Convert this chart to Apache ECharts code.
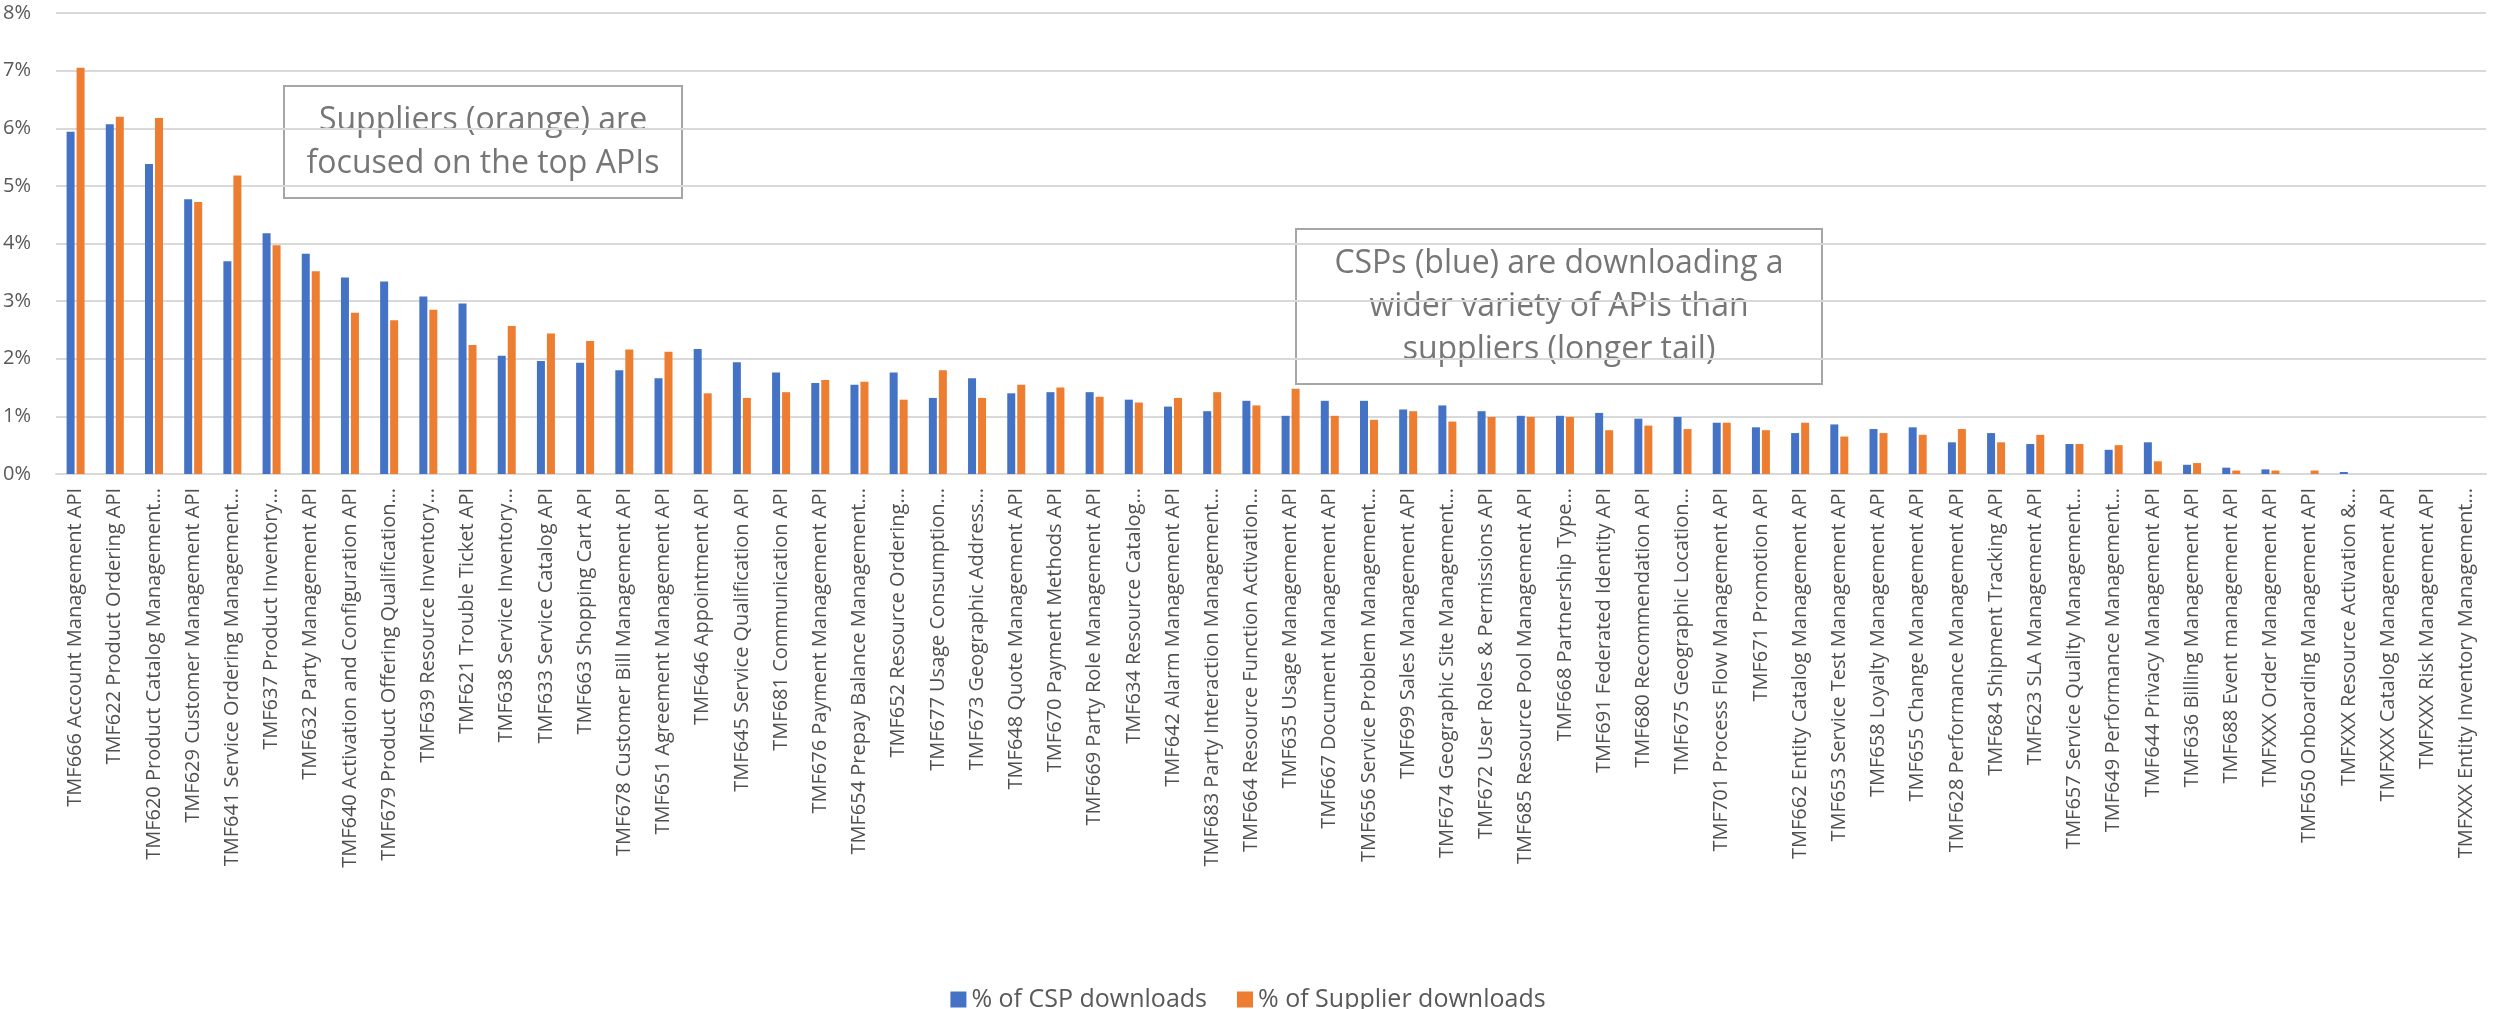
<!DOCTYPE html>
<html>
<head>
<meta charset="utf-8">
<title>API downloads</title>
<script src="https://cdn.jsdelivr.net/npm/echarts@6/dist/echarts.min.js"></script>
<style>
  html, body { margin: 0; padding: 0; background: #fff; }
  #chart { width: 2496px; height: 1009px; }
</style>
</head>
<body>
<div id="chart"></div>
<script>
// API names, as truncated on the original axis
const categories = [
  'TMF666 Account Management API',
  'TMF622 Product Ordering API',
  'TMF620 Product Catalog Management…',
  'TMF629 Customer Management API',
  'TMF641 Service Ordering Management…',
  'TMF637 Product Inventory…',
  'TMF632 Party Management API',
  'TMF640 Activation and Configuration API',
  'TMF679 Product Offering Qualification…',
  'TMF639 Resource Inventory…',
  'TMF621 Trouble Ticket API',
  'TMF638 Service Inventory…',
  'TMF633 Service Catalog API',
  'TMF663 Shopping Cart API',
  'TMF678 Customer Bill Management API',
  'TMF651 Agreement Management API',
  'TMF646 Appointment API',
  'TMF645 Service Qualification API',
  'TMF681 Communication API',
  'TMF676 Payment Management API',
  'TMF654 Prepay Balance Management…',
  'TMF652 Resource Ordering…',
  'TMF677 Usage Consumption…',
  'TMF673 Geographic Address…',
  'TMF648 Quote Management API',
  'TMF670 Payment Methods API',
  'TMF669 Party Role Management API',
  'TMF634 Resource Catalog…',
  'TMF642 Alarm Management API',
  'TMF683 Party Interaction Management…',
  'TMF664 Resource Function Activation…',
  'TMF635 Usage Management API',
  'TMF667 Document Management API',
  'TMF656 Service Problem Management…',
  'TMF699 Sales Management API',
  'TMF674 Geographic Site Management…',
  'TMF672 User Roles & Permissions API',
  'TMF685 Resource Pool Management API',
  'TMF668 Partnership Type…',
  'TMF691 Federated Identity API',
  'TMF680 Recommendation API',
  'TMF675 Geographic Location…',
  'TMF701 Process Flow Management API',
  'TMF671 Promotion API',
  'TMF662 Entity Catalog Management API',
  'TMF653 Service Test Management API',
  'TMF658 Loyalty Management API',
  'TMF655 Change Management API',
  'TMF628 Performance Management API',
  'TMF684 Shipment Tracking API',
  'TMF623 SLA Management API',
  'TMF657 Service Quality Management…',
  'TMF649 Performance Management…',
  'TMF644 Privacy Management API',
  'TMF636 Billing Management API',
  'TMF688 Event management API',
  'TMFXXX Order Management API',
  'TMF650 Onboarding Management API',
  'TMFXXX Resource Activation &…',
  'TMFXXX Catalog Management API',
  'TMFXXX Risk Management API',
  'TMFXXX Entity Inventory Management…'
]

// values in percent
const cspDownloads = [
  5.94, 6.07, 5.38, 4.77, 3.69, 4.18, 3.82, 3.41, 3.34, 3.08,
  2.96, 2.05, 1.96, 1.93, 1.80, 1.66, 2.17, 1.94, 1.76, 1.58,
  1.55, 1.76, 1.32, 1.66, 1.40, 1.42, 1.42, 1.29, 1.17, 1.09,
  1.27, 1.01, 1.27, 1.27, 1.12, 1.19, 1.09, 1.01, 1.01, 1.06,
  0.96, 0.99, 0.89, 0.81, 0.71, 0.86, 0.78, 0.81, 0.55, 0.71,
  0.52, 0.52, 0.42, 0.55, 0.16, 0.11, 0.08, 0, 0.035, 0,
  0, 0
]
const supplierDownloads = [
  7.05, 6.20, 6.18, 4.72, 5.18, 3.97, 3.52, 2.80, 2.67, 2.85,
  2.24, 2.57, 2.44, 2.31, 2.16, 2.12, 1.40, 1.32, 1.42, 1.63,
  1.60, 1.29, 1.80, 1.32, 1.55, 1.50, 1.34, 1.24, 1.32, 1.42,
  1.19, 1.48, 1.01, 0.94, 1.09, 0.91, 0.99, 0.99, 0.99, 0.76,
  0.84, 0.78, 0.89, 0.76, 0.89, 0.65, 0.71, 0.68, 0.78, 0.55,
  0.68, 0.52, 0.50, 0.22, 0.19, 0.06, 0.06, 0.06, 0, 0,
  0, 0
]

const seriesNames = ['% of CSP downloads', '% of Supplier downloads']
const yMax = 8
const yStep = 1

const note1 = 'Suppliers (orange) are\nfocused on the top APIs'
const note2 = 'CSPs (blue) are downloading a\nwider variety of APIs than\nsuppliers (longer tail)'

const font = '"Open Sans", "Noto Sans", sans-serif'

function noteBox(x, y, w, h, text) {
  return {
    type: 'group',
    left: x,
    top: y,
    children: [
      {
        type: 'rect',
        shape: { x: 0, y: 0, width: w, height: h },
        style: { fill: '#fff', stroke: '#a6a6a6', lineWidth: 2 }
      },
      {
        type: 'text',
        x: w / 2,
        y: h / 2,
        style: {
          text: text,
          fill: '#767676',
          font: '32px ' + font,
          lineHeight: 43,
          align: 'center',
          verticalAlign: 'middle'
        }
      }
    ]
  }
}

const chart = echarts.init(document.getElementById('chart'))

const option = {
  animation: false,
  textStyle: { fontFamily: font },
  grid: { left: 56, right: 10, top: 13, bottom: 535, containLabel: false },
  legend: {
    data: seriesNames,
    top: 982,
    left: 'center',
    icon: 'rect',
    itemWidth: 16,
    itemHeight: 16,
    itemGap: 30,
    textStyle: { color: '#595959', fontSize: 25, fontFamily: font }
  },
  xAxis: {
    type: 'category',
    data: categories,
    axisLine: { lineStyle: { color: '#d9d9d9', width: 2 } },
    axisTick: { show: false },
    axisLabel: {
      interval: 0,
      rotate: 90,
      margin: 14,
      color: '#505050',
      fontSize: 20,
      fontFamily: font
    }
  },
  yAxis: {
    type: 'value',
    min: 0,
    max: yMax,
    interval: yStep,
    axisLine: { show: false },
    axisTick: { show: false },
    splitLine: { lineStyle: { color: '#d9d9d9', width: 2 } },
    axisLabel: {
      formatter: '{value}%',
      color: '#595959',
      fontSize: 20,
      margin: 25,
      fontFamily: font
    }
  },
  series: [
    {
      name: seriesNames[0],
      type: 'bar',
      data: cspDownloads,
      barWidth: 8,
      barGap: '25%',
      itemStyle: { color: '#4472C4' }
    },
    {
      name: seriesNames[1],
      type: 'bar',
      data: supplierDownloads,
      barWidth: 8,
      itemStyle: { color: '#ED7D31' }
    }
  ],
  graphic: [
    noteBox(283, 85, 398, 112, note1),
    noteBox(1295, 228, 526, 155, note2)
  ]
}

chart.setOption(option)
</script>
</body>
</html>
